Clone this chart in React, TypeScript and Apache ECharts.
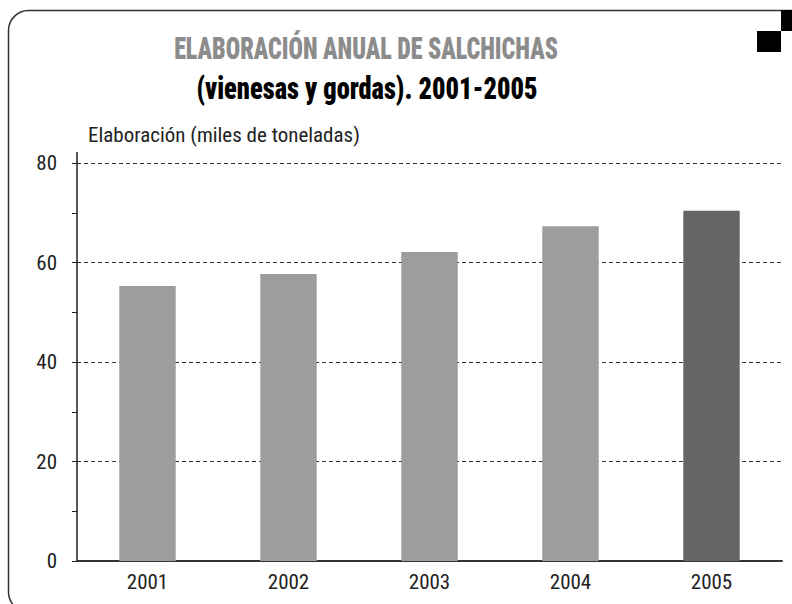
import React, { useEffect, useRef } from "react";
import * as echarts from "echarts";

const years = ["2001", "2002", "2003", "2004", "2005"];
const values = [55.3, 57.7, 62.1, 67.3, 70.4];
const barColors = ["#9d9d9e", "#9d9d9e", "#9d9d9e", "#9d9d9e", "#646567"];
const titleLine1 = "ELABORACIÓN ANUAL DE SALCHICHAS";
const titleLine2 = "(vienesas y gordas). 2001-2005";
const yName = "Elaboración (miles de toneladas)";

const FONT = "'Liberation Sans Narrow', 'Roboto Condensed', Roboto, sans-serif";

export default function App() {
  const ref = useRef<HTMLDivElement>(null);
  useEffect(() => {
    if (!ref.current) return;
    const chart = echarts.init(ref.current, null, { renderer: "svg" });
    chart.setOption({
      animation: false,
      backgroundColor: "#ffffff",
      grid: { left: 77, right: 10, top: 163, bottom: 43, containLabel: false },
      xAxis: {
        type: "category",
        data: years,
        axisLine: { show: true, lineStyle: { color: "#333", width: 2 } },
        axisTick: { show: false },
        axisLabel: { color: "#222", fontFamily: FONT, fontSize: 21, margin: 10 },
      },
      yAxis: {
        type: "value",
        min: 0,
        max: 80,
        interval: 20,
        name: yName,
        nameLocation: "end",
        nameGap: 18,
        nameTextStyle: { color: "#222", fontFamily: FONT, fontSize: 21, align: "left", padding: [0, 0, 0, 11] },
        axisLine: { show: true, lineStyle: { color: "#222", width: 1.5 } },
        axisTick: { show: true, length: 5, lineStyle: { color: "#222" } },
        minorTick: { show: true, splitNumber: 2, length: 5, lineStyle: { color: "#222" } },
        axisLabel: { color: "#222", fontFamily: FONT, fontSize: 21, margin: 20 },
        splitLine: { show: true, lineStyle: { color: "#333", type: [4, 3], width: 1 } },
      },
      series: [
        {
          type: "bar",
          data: values.map((v, i) => ({ value: v, itemStyle: { color: barColors[i] } })),
          barWidth: "40%",
        },
      ],
      graphic: [
        {
          type: "rect",
          shape: { x: 8.5, y: 10.5, width: 820, height: 601.5, r: 20 },
          style: { fill: "none", stroke: "#333", lineWidth: 1.5 },
          silent: true,
          z: 0,
        },
        { type: "rect", shape: { x: 757, y: 31, width: 24, height: 21 }, style: { fill: "#000" } },
        { type: "rect", shape: { x: 781, y: 10, width: 14, height: 21 }, style: { fill: "#000" } },
        { type: "line", shape: { x1: 77, y1: 152, x2: 77, y2: 164 }, style: { stroke: "#222", lineWidth: 1.5 } },
        {
          type: "text",
          x: 366,
          y: 48,
          scaleX: 0.75,
          style: {
            text: titleLine1,
            fill: "#8c8c8c",
            font: `900 32px ${FONT}`,
            align: "center",
            verticalAlign: "middle",
          },
        },
        {
          type: "text",
          x: 367,
          y: 88,
          scaleX: 0.825,
          style: {
            text: titleLine2,
            fill: "#000",
            font: `900 32px ${FONT}`,
            align: "center",
            verticalAlign: "middle",
          },
        },
      ],
    });
    return () => chart.dispose();
  }, []);
  return <div ref={ref} style={{ width: 792, height: 604, position: "absolute", left: 0, top: 0 }} />;
}
